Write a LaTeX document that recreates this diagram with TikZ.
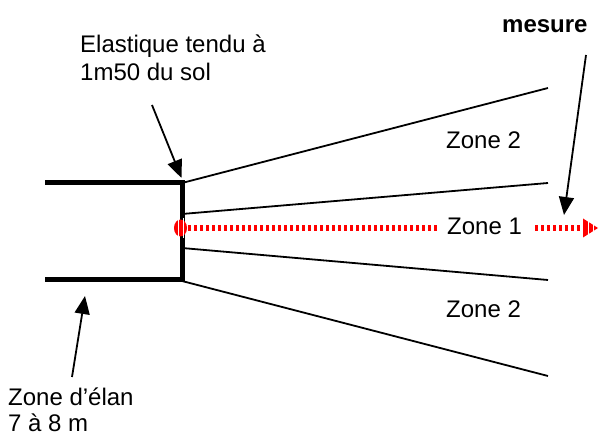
\documentclass[tikz,border=0pt]{standalone}
\usepackage{fontspec}
\setmainfont{Liberation Sans}
\usetikzlibrary{arrows.meta}
\begin{document}
\begin{tikzpicture}[x=1pt,y=-1pt,
  thickbar/.style={line width=5pt},
  ray/.style={line width=1.8pt},
  callout/.style={line width=1.8pt,-{Triangle[length=18pt,width=15pt]}},
  lbl/.style={inner sep=0pt,anchor=base west,font=\fontsize{24}{28}\selectfont},
  reddots/.style={draw=red,line width=6pt,dash pattern=on 3pt off 3pt},
  stripe/.style={draw=white,line width=1.6pt}
]
\useasboundingbox (0,0) rectangle (600,435);
% run-up lane
\coordinate (tl) at (45,183);
\coordinate (tr) at (182,183);
\coordinate (bl) at (45,280);
\coordinate (br) at (182,280);
\coordinate (vb) at (182,282.5);
\draw[thickbar] (tl) -- (tr) -- (vb);
\draw[thickbar] (bl) -- (br);
% rays
\coordinate (r1s) at (182,183);   \coordinate (r1e) at (548,88);
\coordinate (r2s) at (182,214);   \coordinate (r2e) at (548,183);
\coordinate (r3s) at (182,248);   \coordinate (r3e) at (548,280);
\coordinate (r4s) at (182,281);   \coordinate (r4e) at (548,376);
\draw[ray] (r1s) -- (r1e);
\draw[ray] (r2s) -- (r2e);
\draw[ray] (r3s) -- (r3e);
\draw[ray] (r4s) -- (r4e);
% texts
\node[lbl,align=left] (elast) at (80,81) {Elastique tendu à\\1m50 du sol};
\node[lbl] (z2a) at (446,149) {Zone 2};
\node[lbl] (z1) at (447,235) {Zone 1};
\node[lbl] (z2b) at (446,318) {Zone 2};
\node[lbl,align=left,font=\fontsize{24}{26}\selectfont] (elan) at (8,432) {Zone d’élan\\7 à 8 m};
\node[lbl,font=\bfseries\fontsize{24}{28}\selectfont] (mes) at (502,33) {mesure};
% red measuring line
\coordinate (m0) at (188,228);
\coordinate (m1) at (437,228);
\coordinate (m2) at (535,228);
\coordinate (m3) at (582,228);
\draw[reddots] (m0) -- (m1);
\draw[reddots] (m2) -- (m3);
\fill[red] (180.5,228) ellipse [x radius=6.5, y radius=8.5];
\draw[stripe] (178.5,218) -- (178.5,238);
\draw[stripe] (183.5,218) -- (183.5,238);
\fill[red] (583,218.5) -- (598,228) -- (583,237.5) -- cycle;
\draw[stripe] (588.5,216) -- (588.5,240);
\draw[stripe] (593.5,216) -- (593.5,240);
% callout arrows
\coordinate (a1s) at (152,105);  \coordinate (a1e) at (181.5,178);
\coordinate (a2s) at (586,55);   \coordinate (a2e) at (564,215);
\coordinate (a3s) at (72,377);   \coordinate (a3e) at (85,296);
\draw[callout] (a1s) -- (a1e);
\draw[callout] (a2s) -- (a2e);
\draw[callout] (a3s) -- (a3e);
\end{tikzpicture}
\end{document}
